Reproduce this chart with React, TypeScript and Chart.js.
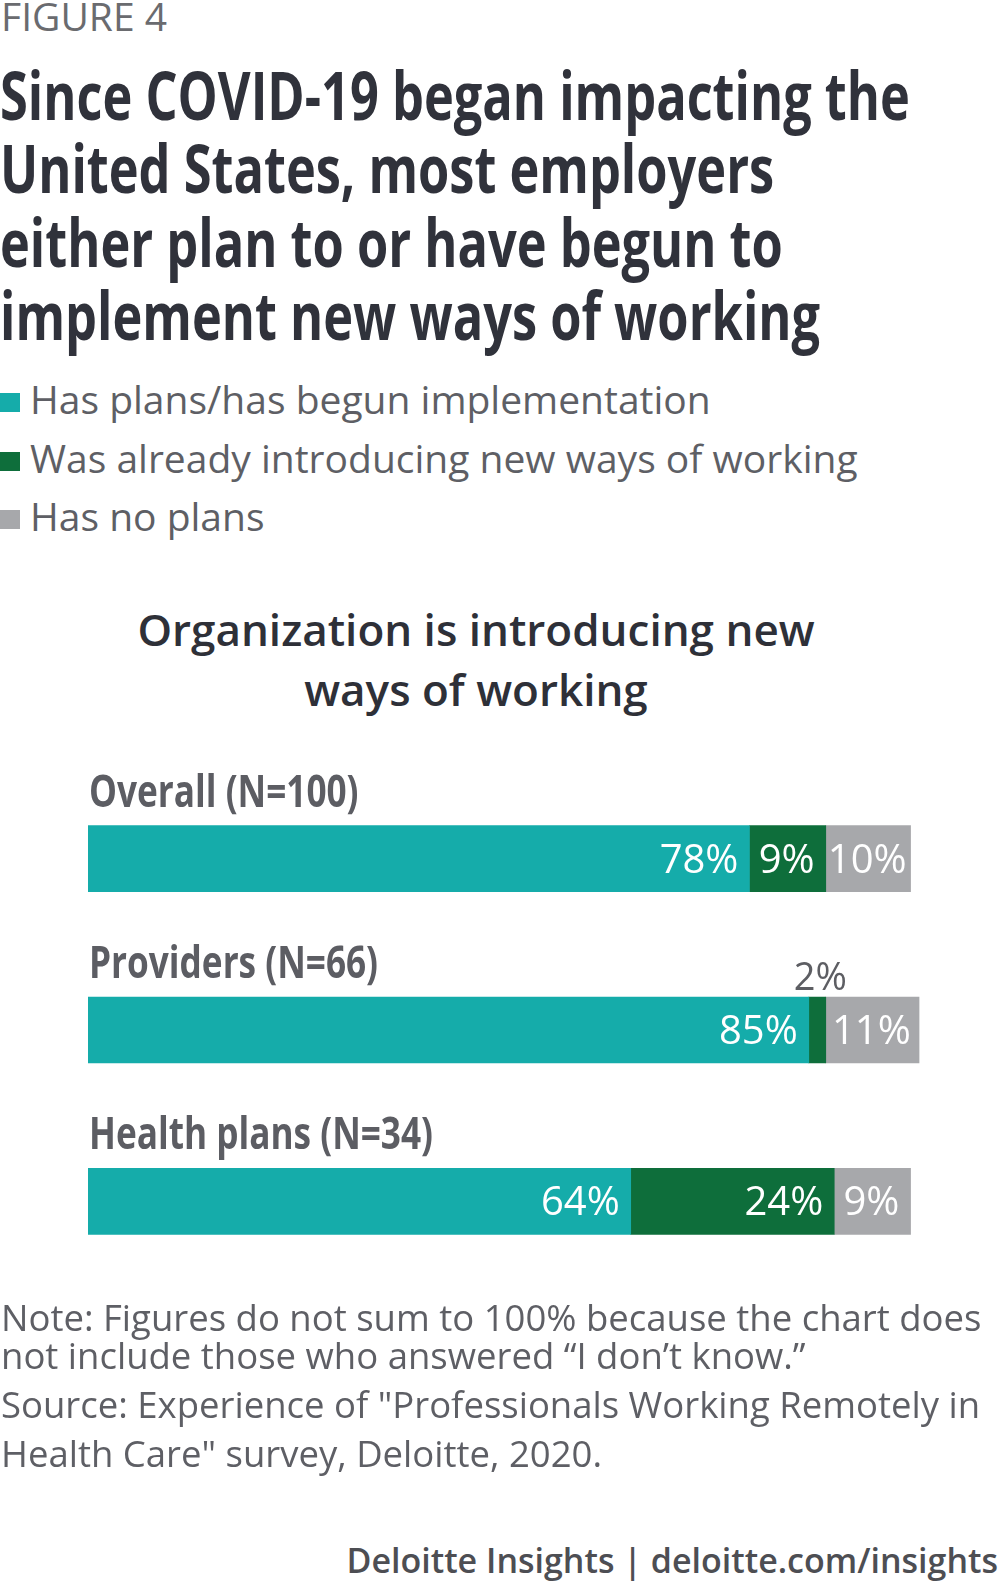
import React, { useEffect, useMemo, useRef } from "react";
import { Chart, registerables } from "chart.js";

Chart.register(...registerables);

const figureLabel = "FIGURE 4";
const titleLines = [
  "Since COVID-19 began impacting the",
  "United States, most employers",
  "either plan to or have begun to",
  "implement new ways of working",
];
const subtitleLines = ["Organization is introducing new", "ways of working"];
const categories = ["Overall (N=100)", "Providers (N=66)", "Health plans (N=34)"];
const seriesNames = [
  "Has plans/has begun implementation",
  "Was already introducing new ways of working",
  "Has no plans",
];
const hasPlans = [78, 85, 64];
const alreadyIntroducing = [9, 2, 24];
const noPlans = [10, 11, 9];
const seriesColors = ["#15ACAA", "#0E6E3B", "#A7A8AB"];
const noteLines = [
  "Note: Figures do not sum to 100% because the chart does",
  "not include those who answered \u201cI don\u2019t know.\u201d",
];
const sourceLines = [
  "Source: Experience of \"Professionals Working Remotely in",
  "Health Care\" survey, Deloitte, 2020.",
];
const footerText = "Deloitte Insights | deloitte.com/insights";

const FONT = "'Open Sans', 'Noto Sans', sans-serif";
const ASC = 0.888; // baseline offset for line-height = font-size

function inkWidth(text: string, font: string): number {
  const c = document.createElement("canvas").getContext("2d")!;
  c.font = font;
  const m = c.measureText(text);
  return (m.actualBoundingBoxLeft || 0) + (m.actualBoundingBoxRight || m.width);
}

type TProps = {
  text: string;
  x: number;
  baseline: number;
  size: number;
  weight?: number;
  color: string;
  scaleX?: number;
  align?: "left" | "center";
  width?: number;
};

function T({ text, x, baseline, size, weight = 400, color, scaleX = 1, align = "left", width }: TProps) {
  return (
    <div
      style={{
        position: "absolute",
        left: x,
        top: baseline - ASC * size,
        width: width,
        fontFamily: FONT,
        fontSize: size,
        fontWeight: weight,
        lineHeight: size + "px",
        color,
        whiteSpace: "nowrap",
        textAlign: align,
        transform: scaleX !== 1 ? `scaleX(${scaleX})` : undefined,
        transformOrigin: "left top",
      }}
    >
      {text}
    </div>
  );
}

const labelPlugin = {
  id: "barLabels",
  afterDatasetsDraw(chart: any) {
    const ctx: CanvasRenderingContext2D = chart.ctx;
    const catFont = `700 45px ${FONT}`;
    const catScale = 267 / inkWidth(categories[0], catFont);
    const meta0 = chart.getDatasetMeta(0);
    categories.forEach((cat, i) => {
      const el = meta0.data[i];
      const p = el.getProps(["y", "height"], true);
      const top = p.y - p.height / 2;
      ctx.save();
      ctx.font = catFont;
      ctx.fillStyle = "#5C5D63";
      ctx.textBaseline = "alphabetic";
      ctx.textAlign = "left";
      ctx.translate(chart.chartArea.left + 1, top - 19);
      ctx.scale(catScale, 1);
      ctx.fillText(cat, 0, 0);
      ctx.restore();
    });

    chart.data.datasets.forEach((ds: any, di: number) => {
      const meta = chart.getDatasetMeta(di);
      meta.data.forEach((el: any, i: number) => {
        const v = ds.data[i];
        const p = el.getProps(["x", "base", "y", "height"], true);
        const left = Math.min(p.x, p.base);
        const right = Math.max(p.x, p.base);
        const w = right - left;
        const label = v + "%";
        ctx.save();
        ctx.font = `400 40px ${FONT}`;
        ctx.textBaseline = "alphabetic";
        const tw = ctx.measureText(label).width;
        const pad = 11;
        if (tw + 4 > w) {
          ctx.font = `400 38px ${FONT}`;
          ctx.fillStyle = "#5D5E63";
          ctx.textAlign = "center";
          ctx.fillText(label, (left + right) / 2 + 3, p.y - p.height / 2 - 7);
        } else if (tw + 2 * pad > w) {
          ctx.fillStyle = "#FFFFFF";
          ctx.textAlign = "center";
          ctx.fillText(label, (left + right) / 2 - 1, p.y + 14);
        } else {
          ctx.fillStyle = "#FFFFFF";
          ctx.textAlign = "right";
          ctx.fillText(label, right - pad, p.y + 14);
        }
        ctx.restore();
      });
    });
  },
};

function BarChart() {
  const ref = useRef<HTMLCanvasElement>(null);
  useEffect(() => {
    if (!ref.current) return;
    const chart = new Chart(ref.current, {
      type: "bar",
      data: {
        labels: categories,
        datasets: [hasPlans, alreadyIntroducing, noPlans].map((d, i) => ({
          label: seriesNames[i],
          data: d,
          backgroundColor: seriesColors[i],
          borderWidth: 0,
          barThickness: 66,
        })),
      },
      options: {
        indexAxis: "y",
        animation: false,
        responsive: true,
        maintainAspectRatio: false,
        layout: { padding: { left: 88, right: 64, top: 33, bottom: 13 } },
        plugins: {
          legend: { display: false },
          tooltip: { enabled: false },
          title: { display: false },
        },
        scales: {
          x: { stacked: true, min: 0, max: 100, display: false },
          y: { stacked: true, display: false },
        },
      },
      plugins: [labelPlugin],
    } as any);
    return () => chart.destroy();
  }, []);
  return (
    <div style={{ position: "absolute", left: 0, top: 740, width: 1000, height: 560 }}>
      <canvas ref={ref} />
    </div>
  );
}

export default function App() {
  const titleScale = useMemo(() => 906 / inkWidth(titleLines[0], `700 66px ${FONT}`), []);
  useEffect(() => {
    document.body.style.margin = "0";
    document.body.style.background = "#ffffff";
  }, []);
  const legendBaselines = [414, 473, 531];
  return (
    <div style={{ position: "absolute", left: 0, top: 0, width: 1000, height: 1585, background: "#fff", overflow: "hidden" }}>
      <T text={figureLabel} x={1} baseline={31} size={39} color="#6A6B6F" />
      {titleLines.map((t, i) => (
        <T key={t} text={t} x={0} baseline={119.5 + 73.5 * i} size={66} weight={700} color="#30323B" scaleX={titleScale} />
      ))}
      {seriesNames.map((s, i) => (
        <React.Fragment key={s}>
          <div
            style={{
              position: "absolute",
              left: 0,
              top: legendBaselines[i] - 21,
              width: 20,
              height: 19,
              background: seriesColors[i],
            }}
          />
          <T text={s} x={30} baseline={legendBaselines[i]} size={39} color="#5E5F65" />
        </React.Fragment>
      ))}
      {subtitleLines.map((s, i) => (
        <T key={s} text={s} x={0} width={952} align="center" baseline={646 + 60 * i} size={44} weight={600} color="#2E3038" />
      ))}
      <BarChart />
      {noteLines.map((s, i) => (
        <T key={s} text={s} x={1} baseline={1331 + 38 * i} size={36.5} color="#5E5F65" />
      ))}
      {sourceLines.map((s, i) => (
        <T key={s} text={s} x={1} baseline={1418 + 49 * i} size={36.5} color="#5E5F65" />
      ))}
      <div
        style={{
          position: "absolute",
          right: 2,
          top: 1573 - ASC * 34,
          fontFamily: FONT,
          fontSize: 34,
          fontWeight: 600,
          lineHeight: "34px",
          color: "#4D4E53",
          whiteSpace: "nowrap",
        }}
      >
        {footerText}
      </div>
    </div>
  );
}
